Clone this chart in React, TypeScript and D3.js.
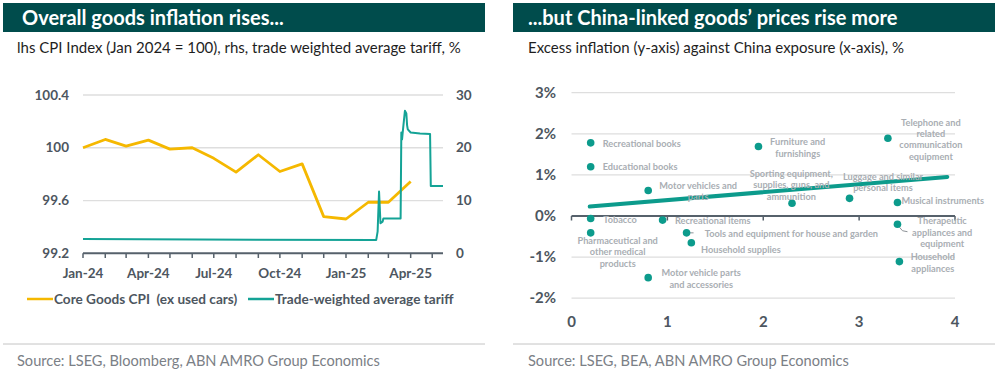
import React, { useEffect, useRef } from 'react';
import * as d3 from 'd3';

// ---- left chart data ----
const cpiMonths = [
  '2024-01-01', '2024-02-01', '2024-03-01', '2024-04-01', '2024-05-01', '2024-06-01',
  '2024-07-01', '2024-08-01', '2024-09-01', '2024-10-01', '2024-11-01', '2024-12-01',
  '2025-01-01', '2025-02-01', '2025-03-01', '2025-04-01',
];
const cpiValues = [
  100.0, 100.063, 100.012, 100.058, 99.99, 100.0, 99.92, 99.815, 99.947, 99.82, 99.878,
  99.478, 99.46, 99.587, 99.587, 99.744,
];
const tariffDates = [
  '2024-01-01', '2025-02-12', '2025-02-14', '2025-02-16', '2025-02-18', '2025-02-21',
  '2025-02-22', '2025-03-18', '2025-03-19', '2025-03-20', '2025-03-21', '2025-03-24',
  '2025-03-26', '2025-03-27', '2025-03-28', '2025-04-01', '2025-04-14', '2025-04-28',
  '2025-04-29', '2025-05-16',
];
const tariffValues = [
  2.7, 2.5, 4.1, 11.7, 5.7, 6.0, 6.6, 6.6, 22.9, 21.6, 23.0, 27.0, 26.5, 24.3, 23.5,
  22.9, 22.7, 22.6, 12.75, 12.75,
];
const cpiTicks = [99.2, 99.6, 100, 100.4];
const tariffTicks = [0, 10, 20, 30];

// ---- right chart data ----
const goodsNames = [
  'Recreational books', 'Educational books', 'Motor vehicles and\nparts', 'Tobacco',
  'Recreational items', 'Pharmaceutical and\nother medical\nproducts',
  'Tools and equipment for house and garden', 'Household supplies',
  'Motor vehicle parts\nand accessories', 'Furniture and\nfurnishings',
  'Telephone and\nrelated\ncommunication\nequipment',
  'Sporting equipment,\nsupplies, guns, and\nammunition', 'Luggage and similar\npersonal items',
  'Musical instruments', 'Therapeutic\nappliances and\nequipment', 'Household\nappliances',
];
const chinaExposure = [0.2, 0.2, 0.8, 0.2, 0.95, 0.2, 1.2, 1.25, 0.8, 1.95, 3.3, 2.3, 2.9, 3.4, 3.4, 3.42];
const excessInflation = [1.78, 1.2, 0.62, -0.06, -0.1, -0.41, -0.41, -0.65, -1.5, 1.69, 1.89, 0.31, 0.43, 0.33, -0.2, -1.11];
const trendExposure = [0.19, 3.92];
const trendInflation = [0.23, 0.95];
const exposureTicks = [0, 1, 2, 3, 4];
const inflationTicks = [-2, -1, 0, 1, 2, 3];

// label placement relative to each point: [dx, dy, anchor]
const labelPlace: [number, number, string][] = [
  [12, 0.5, 'start'], [12, 0.5, 'start'], [50, -4.7, 'middle'], [12.6, 1, 'start'],
  [12.3, 1, 'start'], [27, 8, 'middle'], [18.3, 1, 'start'], [9.7, 6.6, 'start'],
  [53, -4.4, 'middle'], [39.2, -4.4, 'middle'], [43, -16, 'middle'], [-0.7, -29.6, 'middle'],
  [33.4, -22, 'middle'], [4, -2, 'start'], [44.7, -3, 'middle'], [33.4, -4.7, 'middle'],
];

const W = 999;
const H = 373;
const FONT = 'Lato, "Open Sans", sans-serif';
const HEADER = '#004c4c';
const AXIS = '#56616b';
const LABEL = '#4d5660';
const GRID = '#dedede';
const YELLOW = '#f5b800';
const TEAL = '#14a396';
const DOT = '#0c9b8c';

const parse = d3.timeParse('%Y-%m-%d');

const App: React.FC = () => {
  const ref = useRef<SVGSVGElement | null>(null);

  useEffect(() => {
    if (!ref.current) return;
    const svg = d3.select(ref.current);
    svg.selectAll('*').remove();
    svg.append('rect').attr('width', W).attr('height', H).attr('fill', '#fff');

    // panel frames
    const panels = [
      { x: 3, title: 'Overall goods inflation rises...', tx: 22,
        sub: 'lhs CPI Index (Jan 2024 = 100), rhs, trade weighted average tariff, %', sx: 17,
        src: 'Source: LSEG, Bloomberg, ABN AMRO Group Economics' },
      { x: 513, title: '...but China-linked goods\u2019 prices rise more', tx: 528,
        sub: 'Excess inflation (y-axis) against China exposure (x-axis), %', sx: 528,
        src: 'Source: LSEG, BEA, ABN AMRO Group Economics' },
    ];
    panels.forEach(p => {
      svg.append('rect').attr('x', p.x).attr('y', 3).attr('width', 482).attr('height', 29).attr('fill', HEADER);
      svg.append('text').attr('x', p.tx).attr('y', 24.5).text(p.title)
        .attr('font-family', FONT).attr('font-size', 20).attr('font-weight', 700).attr('fill', '#fff');
      svg.append('text').attr('x', p.sx).attr('y', 53).text(p.sub)
        .attr('font-family', FONT).attr('font-size', 15).attr('fill', '#1e1e1e');
      svg.append('line').attr('x1', p.x).attr('x2', p.x + 482).attr('y1', 344).attr('y2', 344)
        .attr('stroke', '#c4c4c4').attr('stroke-width', 1);
      svg.append('text').attr('x', p.sx).attr('y', 366).text(p.src)
        .attr('font-family', FONT).attr('font-size', 14.6).attr('fill', '#7b8086');
    });

    // ---------- left chart ----------
    const g = svg.append('g');
    const x = d3.scaleTime().domain([parse('2024-01-01')!, parse('2025-05-16')!]).range([83, 443]);
    const yL = d3.scaleLinear().domain([99.2, 100.4]).range([253.3, 95]);
    const yR = d3.scaleLinear().domain([0, 30]).range([253.3, 95]);

    g.selectAll('.grid').data(cpiTicks.slice(1)).enter().append('line')
      .attr('x1', 83).attr('x2', 443).attr('y1', d => yL(d)).attr('y2', d => yL(d))
      .attr('stroke', GRID).attr('stroke-width', 1.3);

    g.selectAll('.lt').data(cpiTicks).enter().append('text')
      .attr('x', 69).attr('y', d => yL(d)).attr('dy', '0.35em').attr('text-anchor', 'end')
      .text(d => String(d)).attr('font-family', FONT).attr('font-size', 13.5).attr('font-weight', 700).attr('fill', LABEL);
    g.selectAll('.rt').data(tariffTicks).enter().append('text')
      .attr('x', 456).attr('y', d => yR(d)).attr('dy', '0.35em')
      .text(d => String(d)).attr('font-family', FONT).attr('font-size', 13.5).attr('font-weight', 700).attr('fill', LABEL);

    const months = d3.timeMonth.range(parse('2024-01-01')!, parse('2025-05-16')!);
    g.append('line').attr('x1', 83).attr('x2', 443).attr('y1', 253.3).attr('y2', 253.3)
      .attr('stroke', AXIS).attr('stroke-width', 2);
    g.selectAll('.xt').data(months).enter().append('line')
      .attr('x1', d => x(d)).attr('x2', d => x(d)).attr('y1', 253.3).attr('y2', 258)
      .attr('stroke', AXIS).attr('stroke-width', 1.5);
    const fmt = d3.timeFormat('%b-%y');
    g.selectAll('.xl').data(months.filter(d => d.getMonth() % 3 === 0)).enter().append('text')
      .attr('x', d => x(d)).attr('y', 277.5).attr('text-anchor', 'middle').text(d => fmt(d))
      .attr('font-family', FONT).attr('font-size', 13.5).attr('font-weight', 700).attr('fill', LABEL);

    const cpi = cpiMonths.map((d, i) => ({ date: parse(d)!, value: cpiValues[i] }));
    const tariff = tariffDates.map((d, i) => ({ date: parse(d)!, value: tariffValues[i] }));
    g.append('path').datum(cpi)
      .attr('d', d3.line<{ date: Date; value: number }>().x(d => x(d.date)).y(d => yL(d.value)))
      .attr('fill', 'none').attr('stroke', YELLOW).attr('stroke-width', 2.8).attr('stroke-linejoin', 'round');
    g.append('path').datum(tariff)
      .attr('d', d3.line<{ date: Date; value: number }>().x(d => x(d.date)).y(d => yR(d.value)))
      .attr('fill', 'none').attr('stroke', TEAL).attr('stroke-width', 2).attr('stroke-linejoin', 'round');

    // legend
    const legend = [
      { label: 'Core Goods CPI  (ex used cars)', color: YELLOW, x: 27 },
      { label: 'Trade-weighted average tariff', color: TEAL, x: 248 },
    ];
    legend.forEach(l => {
      g.append('line').attr('x1', l.x).attr('x2', l.x + 26).attr('y1', 299).attr('y2', 299)
        .attr('stroke', l.color).attr('stroke-width', 2.5);
      g.append('text').attr('x', l.x + 27).attr('y', 299).attr('dy', '0.35em').text(l.label)
        .attr('xml:space', 'preserve').style('white-space', 'pre')
        .attr('font-family', FONT).attr('font-size', 13.6).attr('font-weight', 700).attr('fill', LABEL);
    });

    // ---------- right chart ----------
    const r = svg.append('g');
    const sx = d3.scaleLinear().domain([0, 4]).range([571.5, 955]);
    const sy = d3.scaleLinear().domain([-2, 3]).range([298.2, 92.7]);

    r.selectAll('.grid').data(inflationTicks.filter(d => d !== 0)).enter().append('line')
      .attr('x1', sx(0)).attr('x2', sx(4)).attr('y1', d => sy(d)).attr('y2', d => sy(d))
      .attr('stroke', GRID).attr('stroke-width', 1.3);
    r.append('line').attr('x1', sx(0)).attr('x2', sx(4)).attr('y1', sy(0)).attr('y2', sy(0))
      .attr('stroke', AXIS).attr('stroke-width', 2);
    r.selectAll('.xt').data(exposureTicks).enter().append('line')
      .attr('x1', d => sx(d)).attr('x2', d => sx(d)).attr('y1', sy(0)).attr('y2', sy(0) + 4.5)
      .attr('stroke', AXIS).attr('stroke-width', 1.5);
    r.selectAll('.yl').data(inflationTicks).enter().append('text')
      .attr('x', 556).attr('y', d => sy(d)).attr('dy', '0.35em').attr('text-anchor', 'end')
      .text(d => `${d}%`).attr('font-family', FONT).attr('font-size', 15).attr('font-weight', 700).attr('fill', LABEL);
    r.selectAll('.xl').data(exposureTicks).enter().append('text')
      .attr('x', d => sx(d)).attr('y', 327).attr('text-anchor', 'middle')
      .text(d => String(d)).attr('font-family', FONT).attr('font-size', 15).attr('font-weight', 700).attr('fill', LABEL);

    // leader lines
    const leader = d3.line<[number, number]>();
    r.append('path').attr('d', leader([[sx(1.2) + 2, sy(-0.41)], [sx(1.2) + 7, sy(-0.41)]]))
      .attr('stroke', '#8c9196').attr('stroke-width', 1).attr('fill', 'none');
    r.append('path').attr('d', leader([[sx(3.4) + 2, sy(-0.2) + 3], [sx(3.4) + 5, sy(-0.2) + 6.5], [sx(3.4) + 10, sy(-0.2) + 7.5]]))
      .attr('stroke', '#8c9196').attr('stroke-width', 1).attr('fill', 'none');

    // trend line
    r.append('line')
      .attr('x1', sx(trendExposure[0])).attr('y1', sy(trendInflation[0]))
      .attr('x2', sx(trendExposure[1])).attr('y2', sy(trendInflation[1]))
      .attr('stroke', DOT).attr('stroke-width', 4).attr('stroke-linecap', 'round');

    r.selectAll('.dot').data(chinaExposure).enter().append('circle')
      .attr('cx', d => sx(d)).attr('cy', (d, i) => sy(excessInflation[i])).attr('r', 3.8)
      .attr('fill', DOT);

    goodsNames.forEach((name, i) => {
      const [dx, dy, anchor] = labelPlace[i];
      const t = r.append('text')
        .attr('x', sx(chinaExposure[i]) + dx).attr('y', sy(excessInflation[i]) + dy)
        .attr('text-anchor', anchor)
        .attr('font-family', FONT).attr('font-size', 9.2).attr('font-weight', 700).attr('fill', '#a9aeb3');
      name.split('\n').forEach((line, k) => {
        t.append('tspan').attr('x', sx(chinaExposure[i]) + dx)
          .attr('dy', k === 0 ? '0.35em' : 11.4).text(line);
      });
    });
  }, []);

  return <svg ref={ref} width={W} height={H} style={{ position: 'absolute', left: 0, top: 0 }} />;
};

export default App;
